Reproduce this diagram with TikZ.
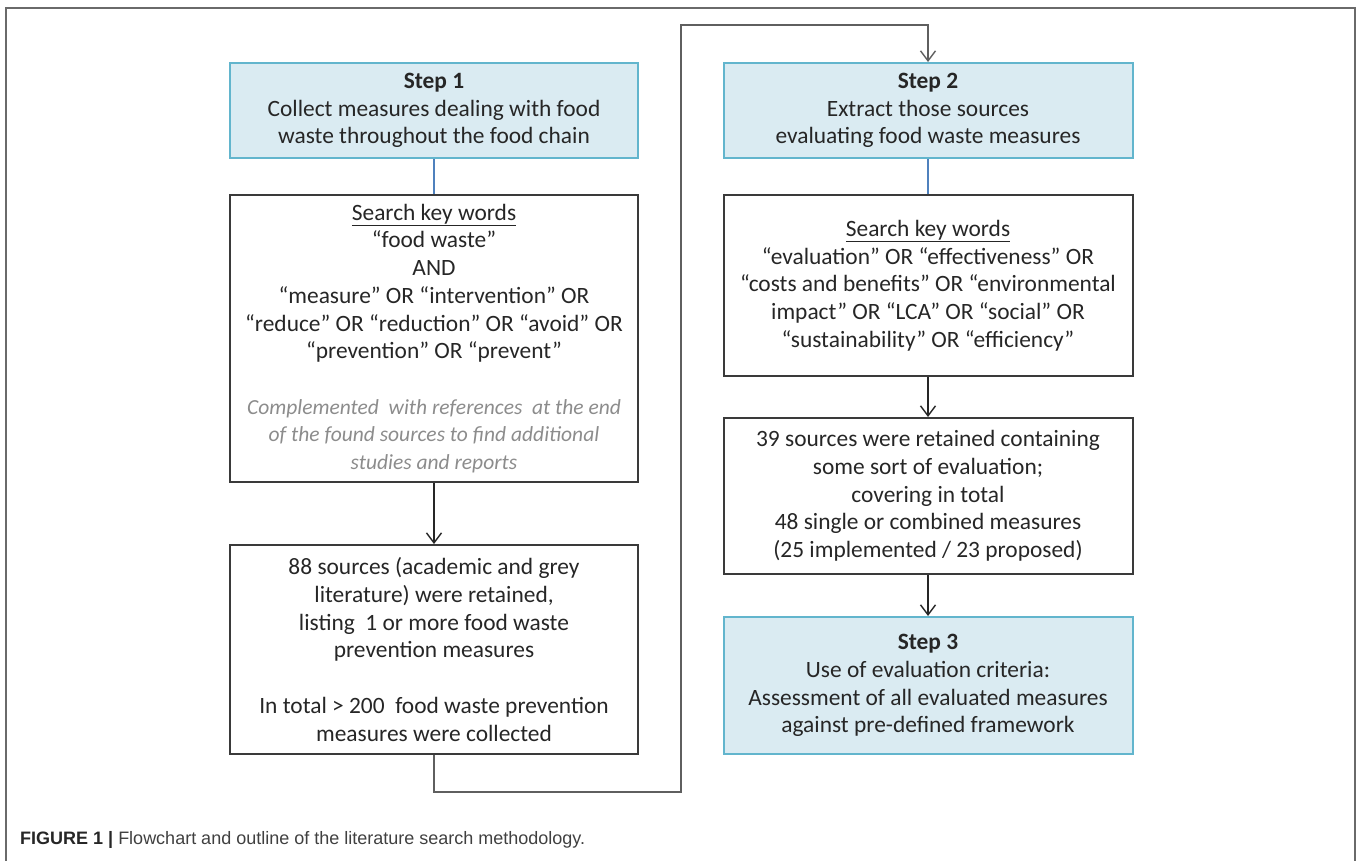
\documentclass[tikz,border=0pt]{standalone}
\usepackage{fontspec}
\setmainfont{Carlito}
\newfontfamily\capfont{Liberation Sans}
\usetikzlibrary{arrows.meta}
\definecolor{stepfill}{HTML}{DAEBF2}
\definecolor{stepborder}{HTML}{62B5CD}
\definecolor{bluelink}{HTML}{4F81BD}
\definecolor{boxborder}{HTML}{3A3A3A}
\definecolor{txt}{HTML}{262626}
\definecolor{note}{HTML}{8C8C8C}
\definecolor{framecol}{HTML}{6A6A6A}
\definecolor{capcol}{HTML}{404040}
\newcommand{\notefnt}{\color{note}\itshape\fontsize{21.5}{25.5}\selectfont}
\tikzset{
  basebox/.style={minimum width=408, align=center, inner sep=0pt, text=txt,
    font=\fontsize{23.4}{27.7}\selectfont},
  stepbox/.style={basebox, draw=stepborder, fill=stepfill, line width=2pt},
  plainbox/.style={basebox, draw=boxborder, line width=2pt},
  bluelinkstyle/.style={draw=bluelink, line width=1.5pt},
  conn/.style={draw=txt, line width=1.4pt, -{Straight Barb[length=10pt,width=15pt,line width=1.4pt]}},
  loopline/.style={draw=framecol!90!black, line width=2pt, -{Straight Barb[length=10pt,width=15pt,line width=1.4pt]}}
}
\begin{document}
\begin{tikzpicture}[x=1pt,y=-1pt]
\useasboundingbox (0,0) rectangle (1358,860);
\draw[framecol, line width=1.6pt] (6,862) -- (6,8) -- (1355,8) -- (1355,862);

\node[stepbox, minimum height=95] (step1) at (434,110.5)
  {\textbf{Step 1}\\Collect measures dealing with food\\waste throughout the food chain};
\node[plainbox, minimum height=287] (search1) at (434,338.5)
  {\underline{Search key words}\\“food waste”\\AND\\“measure” OR “intervention” OR\\“reduce” OR “reduction” OR “avoid” OR\\“prevention” OR “prevent”\\[27.7pt]
   {\notefnt Complemented\ \ with references\ \ at the end}\\{\notefnt of the found sources to find additional}\\{\notefnt studies and reports}};
\node[plainbox, minimum height=209] (box88) at (434,649.5)
  {88 sources (academic and grey\\literature) were retained,\\listing\ \ 1 or more food waste\\prevention measures\\[27.7pt]In total > 200\ \ food waste prevention\\measures were collected};

\node[stepbox, minimum height=95, minimum width=409] (step2) at (928,110.5)
  {\textbf{Step 2}\\Extract those sources\\evaluating food waste measures};
\node[plainbox, minimum height=181, minimum width=409] (search2) at (928,285.5)
  {\underline{Search key words}\\“evaluation” OR “effectiveness” OR\\“costs and benefits” OR “environmental\\impact” OR “LCA” OR “social” OR\\“sustainability” OR “efficiency”};
\node[plainbox, minimum height=156, minimum width=409] (box39) at (928,496)
  {39 sources were retained containing\\some sort of evaluation;\\covering in total\\48 single or combined measures\\(25 implemented / 23 proposed)};
\node[stepbox, minimum height=137, minimum width=409] (step3) at (928,685.5)
  {\textbf{Step 3}\\Use of evaluation criteria:\\Assessment of all evaluated measures\\against pre-defined framework};

\coordinate (l2) at (681,792);
\coordinate (l3) at (681,25);

\draw[bluelinkstyle] (step1.south) -- (search1.north);
\draw[conn] (search1.south) -- (box88.north);
\draw[loopline] (box88.south) |- (l2) -- (l3) -| (step2.north);
\draw[bluelinkstyle] (step2.south) -- (search2.north);
\draw[conn] (search2.south) -- (box39.north);
\draw[conn] (box39.south) -- (step3.north);

\node[anchor=west, inner sep=0pt, text=capcol, font=\capfont\fontsize{18}{21}\selectfont] (cap) at (20,840)
  {\textbf{\color{black!85}FIGURE 1 |} Flowchart and outline of the literature search methodology.};
\end{tikzpicture}
\end{document}
